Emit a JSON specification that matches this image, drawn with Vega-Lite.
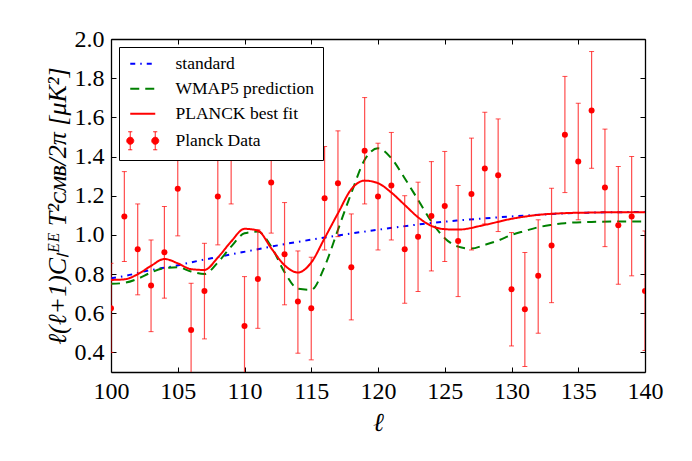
{
  "$schema": "https://vega.github.io/schema/vega-lite/v6.json",
  "autosize": {"type": "none"},
  "padding": {"left": 111, "top": 39, "right": 47, "bottom": 89},
  "width": 534,
  "height": 333,
  "config": {
    "font": "Liberation Serif",
    "view": {"stroke": null},
    "axis": {"grid": false, "domainColor": "#000", "domainWidth": 1.3, "tickColor": "#000", "tickWidth": 1, "tickSize": -5, "labelFont": "Liberation Serif", "labelFontSize": 24, "labelColor": "#000", "labelPadding": 12, "labelFlush": false, "labelOverlap": false, "zindex": 1, "titleColor": "#000"}
  },
  "datasets": {
    "curves": [
      {"series": "standard", "l": 100, "v": 0.779},
      {"series": "standard", "l": 100.8, "v": 0.787},
      {"series": "standard", "l": 102.8, "v": 0.818},
      {"series": "standard", "l": 104.8, "v": 0.842},
      {"series": "standard", "l": 106.5, "v": 0.867},
      {"series": "standard", "l": 108, "v": 0.887},
      {"series": "standard", "l": 109.8, "v": 0.911},
      {"series": "standard", "l": 111.3, "v": 0.931},
      {"series": "standard", "l": 113.1, "v": 0.954},
      {"series": "standard", "l": 115.6, "v": 0.982},
      {"series": "standard", "l": 118.9, "v": 1.016},
      {"series": "standard", "l": 121.4, "v": 1.039},
      {"series": "standard", "l": 123.9, "v": 1.06},
      {"series": "standard", "l": 125.9, "v": 1.073},
      {"series": "standard", "l": 130, "v": 1.094},
      {"series": "standard", "l": 135, "v": 1.112},
      {"series": "standard", "l": 140, "v": 1.117},
      {"series": "WMAP5 prediction", "l": 100, "v": 0.75},
      {"series": "WMAP5 prediction", "l": 101, "v": 0.755},
      {"series": "WMAP5 prediction", "l": 102, "v": 0.776},
      {"series": "WMAP5 prediction", "l": 103, "v": 0.808},
      {"series": "WMAP5 prediction", "l": 104, "v": 0.83},
      {"series": "WMAP5 prediction", "l": 105, "v": 0.835},
      {"series": "WMAP5 prediction", "l": 106, "v": 0.813},
      {"series": "WMAP5 prediction", "l": 107, "v": 0.8},
      {"series": "WMAP5 prediction", "l": 108, "v": 0.859},
      {"series": "WMAP5 prediction", "l": 109, "v": 0.94},
      {"series": "WMAP5 prediction", "l": 110, "v": 1.008},
      {"series": "WMAP5 prediction", "l": 111, "v": 1.017},
      {"series": "WMAP5 prediction", "l": 112, "v": 0.94},
      {"series": "WMAP5 prediction", "l": 113, "v": 0.81},
      {"series": "WMAP5 prediction", "l": 114, "v": 0.725},
      {"series": "WMAP5 prediction", "l": 115, "v": 0.72},
      {"series": "WMAP5 prediction", "l": 116, "v": 0.838},
      {"series": "WMAP5 prediction", "l": 117, "v": 1.026},
      {"series": "WMAP5 prediction", "l": 118, "v": 1.213},
      {"series": "WMAP5 prediction", "l": 119, "v": 1.383},
      {"series": "WMAP5 prediction", "l": 120, "v": 1.442},
      {"series": "WMAP5 prediction", "l": 121, "v": 1.391},
      {"series": "WMAP5 prediction", "l": 122, "v": 1.289},
      {"series": "WMAP5 prediction", "l": 123, "v": 1.179},
      {"series": "WMAP5 prediction", "l": 124, "v": 1.068},
      {"series": "WMAP5 prediction", "l": 125, "v": 0.983},
      {"series": "WMAP5 prediction", "l": 126, "v": 0.94},
      {"series": "WMAP5 prediction", "l": 127, "v": 0.93},
      {"series": "WMAP5 prediction", "l": 128, "v": 0.949},
      {"series": "WMAP5 prediction", "l": 129, "v": 0.971},
      {"series": "WMAP5 prediction", "l": 130, "v": 1.0},
      {"series": "WMAP5 prediction", "l": 131, "v": 1.02},
      {"series": "WMAP5 prediction", "l": 132, "v": 1.039},
      {"series": "WMAP5 prediction", "l": 133, "v": 1.051},
      {"series": "WMAP5 prediction", "l": 134, "v": 1.06},
      {"series": "WMAP5 prediction", "l": 136, "v": 1.066},
      {"series": "WMAP5 prediction", "l": 138, "v": 1.068},
      {"series": "WMAP5 prediction", "l": 140, "v": 1.068},
      {"series": "PLANCK best fit", "l": 100, "v": 0.77},
      {"series": "PLANCK best fit", "l": 101, "v": 0.773},
      {"series": "PLANCK best fit", "l": 102, "v": 0.799},
      {"series": "PLANCK best fit", "l": 103, "v": 0.842},
      {"series": "PLANCK best fit", "l": 104, "v": 0.877},
      {"series": "PLANCK best fit", "l": 105, "v": 0.855},
      {"series": "PLANCK best fit", "l": 106, "v": 0.825},
      {"series": "PLANCK best fit", "l": 107, "v": 0.821},
      {"series": "PLANCK best fit", "l": 108, "v": 0.884},
      {"series": "PLANCK best fit", "l": 109, "v": 0.966},
      {"series": "PLANCK best fit", "l": 110, "v": 1.031},
      {"series": "PLANCK best fit", "l": 111, "v": 1.022},
      {"series": "PLANCK best fit", "l": 112, "v": 0.932},
      {"series": "PLANCK best fit", "l": 113, "v": 0.845},
      {"series": "PLANCK best fit", "l": 114, "v": 0.808},
      {"series": "PLANCK best fit", "l": 115, "v": 0.859},
      {"series": "PLANCK best fit", "l": 116, "v": 0.983},
      {"series": "PLANCK best fit", "l": 117, "v": 1.11},
      {"series": "PLANCK best fit", "l": 118, "v": 1.233},
      {"series": "PLANCK best fit", "l": 119, "v": 1.277},
      {"series": "PLANCK best fit", "l": 120, "v": 1.264},
      {"series": "PLANCK best fit", "l": 121, "v": 1.216},
      {"series": "PLANCK best fit", "l": 122, "v": 1.153},
      {"series": "PLANCK best fit", "l": 123, "v": 1.09},
      {"series": "PLANCK best fit", "l": 124, "v": 1.046},
      {"series": "PLANCK best fit", "l": 125, "v": 1.029},
      {"series": "PLANCK best fit", "l": 126, "v": 1.027},
      {"series": "PLANCK best fit", "l": 128, "v": 1.051},
      {"series": "PLANCK best fit", "l": 130, "v": 1.082},
      {"series": "PLANCK best fit", "l": 132, "v": 1.102},
      {"series": "PLANCK best fit", "l": 134, "v": 1.111},
      {"series": "PLANCK best fit", "l": 136, "v": 1.114},
      {"series": "PLANCK best fit", "l": 138, "v": 1.116},
      {"series": "PLANCK best fit", "l": 140, "v": 1.116}
    ],
    "planck": [
      {"l": 100, "v": 0.626, "lo": 0.4, "hi": 0.855},
      {"l": 101, "v": 1.094, "lo": 0.864, "hi": 1.323},
      {"l": 102, "v": 0.927, "lo": 0.694, "hi": 1.158},
      {"l": 103, "v": 0.741, "lo": 0.506, "hi": 0.974},
      {"l": 104, "v": 0.911, "lo": 0.677, "hi": 1.145},
      {"l": 105, "v": 1.235, "lo": 0.995, "hi": 1.475},
      {"l": 106, "v": 0.515, "lo": 0.277, "hi": 0.753},
      {"l": 107, "v": 0.714, "lo": 0.469, "hi": 0.957},
      {"l": 108, "v": 1.196, "lo": 0.949, "hi": 1.443},
      {"l": 109, "v": 1.409, "lo": 1.158, "hi": 1.66},
      {"l": 110, "v": 0.535, "lo": 0.283, "hi": 0.787},
      {"l": 111, "v": 0.775, "lo": 0.523, "hi": 1.026},
      {"l": 112, "v": 1.267, "lo": 1.009, "hi": 1.51},
      {"l": 113, "v": 0.901, "lo": 0.643, "hi": 1.165},
      {"l": 114, "v": 0.66, "lo": 0.396, "hi": 0.918},
      {"l": 115, "v": 0.626, "lo": 0.362, "hi": 0.886},
      {"l": 116, "v": 1.187, "lo": 0.923, "hi": 1.451},
      {"l": 117, "v": 1.264, "lo": 0.991, "hi": 1.531},
      {"l": 118, "v": 0.835, "lo": 0.566, "hi": 1.107},
      {"l": 119, "v": 1.429, "lo": 1.158, "hi": 1.701},
      {"l": 120, "v": 1.196, "lo": 0.923, "hi": 1.468},
      {"l": 121, "v": 1.252, "lo": 0.974, "hi": 1.523},
      {"l": 122, "v": 0.927, "lo": 0.651, "hi": 1.2},
      {"l": 123, "v": 0.991, "lo": 0.711, "hi": 1.269},
      {"l": 124, "v": 1.097, "lo": 0.816, "hi": 1.374},
      {"l": 125, "v": 1.148, "lo": 0.864, "hi": 1.426},
      {"l": 126, "v": 0.969, "lo": 0.685, "hi": 1.252},
      {"l": 127, "v": 1.209, "lo": 0.923, "hi": 1.494},
      {"l": 128, "v": 1.339, "lo": 1.056, "hi": 1.626},
      {"l": 129, "v": 1.305, "lo": 1.017, "hi": 1.592},
      {"l": 130, "v": 0.723, "lo": 0.433, "hi": 1.012},
      {"l": 131, "v": 0.62, "lo": 0.328, "hi": 0.91},
      {"l": 132, "v": 0.791, "lo": 0.498, "hi": 1.077},
      {"l": 133, "v": 0.946, "lo": 0.654, "hi": 1.238},
      {"l": 134, "v": 1.511, "lo": 1.216, "hi": 1.809},
      {"l": 135, "v": 1.374, "lo": 1.077, "hi": 1.672},
      {"l": 136, "v": 1.635, "lo": 1.34, "hi": 1.936},
      {"l": 137, "v": 1.242, "lo": 0.94, "hi": 1.54},
      {"l": 138, "v": 1.049, "lo": 0.748, "hi": 1.349},
      {"l": 139, "v": 1.094, "lo": 0.791, "hi": 1.4},
      {"l": 140, "v": 0.714, "lo": 0.41, "hi": 1.02}
    ]
  },
  "layer": [
    {
      "data": {"name": "curves"},
      "mark": {"type": "line", "clip": true, "strokeWidth": 2, "interpolate": "monotone"},
      "encoding": {
        "x": {"field": "l", "type": "quantitative", "scale": {"domain": [100, 140], "nice": false, "zero": false},
              "axis": {"orient": "bottom", "values": [100, 105, 110, 115, 120, 125, 130, 135, 140], "title": "ℓ", "titleFont": "Liberation Serif", "titleFontStyle": "italic", "titleFontWeight": "normal", "titleFontSize": 26, "titlePadding": 6}},
        "y": {"field": "v", "type": "quantitative", "scale": {"domain": [0.3, 2.0], "nice": false, "zero": false},
              "axis": {"orient": "left", "values": [0.4, 0.6, 0.8, 1.0, 1.2, 1.4, 1.6, 1.8, 2.0], "format": ".1f", "title": "ℓ(ℓ+1)Cₗᴱᴱ T²ᴄᴍʙ/2π [μK²]", "titleFont": "Liberation Serif", "titleFontStyle": "italic", "titleFontWeight": "normal", "titleFontSize": 26, "titlePadding": 4}},
        "color": {"field": "series", "type": "nominal",
                  "scale": {"domain": ["standard", "WMAP5 prediction", "PLANCK best fit", "Planck Data"], "range": ["#0000ff", "#008000", "#ff0000", "#ff0000"]},
                  "legend": {"title": null, "orient": "top-left", "offset": 8, "padding": 8, "strokeColor": "#000", "fillColor": "#fff", "cornerRadius": 0,
                             "symbolType": "stroke", "symbolSize": 625, "symbolStrokeWidth": 2, "symbolOpacity": 1, "symbolOffset": 7,
                             "labelFont": "Liberation Serif", "labelFontSize": 17.5, "labelColor": "#000", "labelOffset": 24, "rowPadding": 6, "labelLimit": 300,
                             "encode": {
                               "symbols": {"update": {
                               "shape": {"signal": "datum.label === 'Planck Data' ? 'M-1,-0.72V0.72M-1.16,-0.72H-0.84M-1.16,0.72H-0.84M1,-0.72V0.72M0.84,-0.72H1.16M0.84,0.72H1.16M-1.28,0A0.28,0.28,0,1,0,-0.72,0A0.28,0.28,0,1,0,-1.28,0ZM0.72,0A0.28,0.28,0,1,0,1.28,0A0.28,0.28,0,1,0,0.72,0Z' : 'stroke'"},
                               "fill": {"signal": "datum.label === 'Planck Data' ? '#ff0000' : 'transparent'"},
                               "strokeWidth": {"signal": "datum.label === 'Planck Data' ? 1 : 2"}
                             }}}}},
        "strokeDash": {"field": "series", "type": "nominal",
                       "scale": {"domain": ["standard", "WMAP5 prediction", "PLANCK best fit", "Planck Data"], "range": [[5, 5, 1.5, 5], [9, 6], [1, 0], [1, 0]]}}
      }
    },
    {
      "data": {"name": "planck"},
      "mark": {"type": "rule", "clip": true, "color": "#ff0000", "opacity": 0.7, "strokeWidth": 1.2},
      "encoding": {
        "x": {"field": "l", "type": "quantitative", "axis": {"orient": "top", "labels": false, "title": null, "values": [100, 105, 110, 115, 120, 125, 130, 135, 140]}},
        "y": {"field": "lo", "type": "quantitative", "axis": {"orient": "right", "labels": false, "title": null, "values": [0.4, 0.6, 0.8, 1.0, 1.2, 1.4, 1.6, 1.8, 2.0]}},
        "y2": {"field": "hi"}
      }
    },
    {
      "data": {"name": "planck"},
      "mark": {"type": "tick", "orient": "horizontal", "clip": true, "color": "#ff0000", "opacity": 0.7, "size": 5, "thickness": 1},
      "encoding": {
        "x": {"field": "l", "type": "quantitative", "axis": null},
        "y": {"field": "hi", "type": "quantitative", "axis": null}
      }
    },
    {
      "data": {"name": "planck"},
      "mark": {"type": "tick", "orient": "horizontal", "clip": true, "color": "#ff0000", "opacity": 0.7, "size": 5, "thickness": 1},
      "encoding": {
        "x": {"field": "l", "type": "quantitative", "axis": null},
        "y": {"field": "lo", "type": "quantitative", "axis": null}
      }
    },
    {
      "data": {"name": "planck"},
      "mark": {"type": "circle", "clip": true, "color": "#ff0000", "opacity": 1, "size": 36},
      "encoding": {
        "x": {"field": "l", "type": "quantitative", "axis": null},
        "y": {"field": "v", "type": "quantitative", "axis": null}
      }
    }
  ],
  "resolve": {"axis": {"x": "independent", "y": "independent"}}
}
